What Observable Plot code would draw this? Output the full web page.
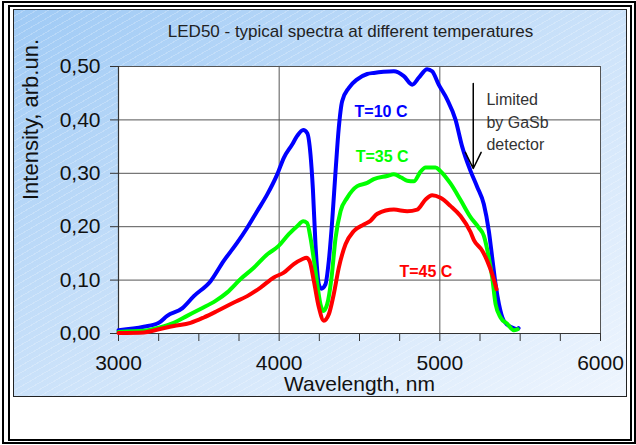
<!DOCTYPE html>
<html>
<head>
<meta charset="utf-8">
<script src="https://cdn.jsdelivr.net/npm/d3@7"></script>
<script src="https://cdn.jsdelivr.net/npm/@observablehq/plot@0.6"></script>
<style>
  body { margin: 0; background: #fff; }
  #page { position: relative; width: 636px; height: 445px; overflow: hidden; font-family: "Liberation Sans", Arial, sans-serif; }
  .o1 { position: absolute; left: 2px; top: 1px; width: 634px; height: 443px; border: 2px solid #000; box-sizing: border-box; }
  .o2 { position: absolute; left: 8px; top: 5px; width: 624px; height: 436px; border: 2px solid #000; box-sizing: border-box; }
  .area { position: absolute; left: 13px; top: 9px; width: 614px; height: 388px; box-sizing: border-box; border: 1px solid #222;
    background:
      repeating-linear-gradient(150deg, rgba(255,255,255,0) 0 5px, rgba(255,255,255,0.22) 5px 6px),
      linear-gradient(to bottom right, #9fcaf5 0%, #cfe4fa 55%, #eef5fe 100%); }
  #chart { position: absolute; left: 0; top: 0; }
</style>
</head>
<body>
<div id="page">
  <div class="o1"></div>
  <div class="o2"></div>
  <div class="area"></div>
  <div id="chart"></div>
</div>
<script>
// ---- data ----
const titleText = "LED50 - typical spectra at different temperatures";
const xLabel = "Wavelength, nm";
const yLabel = "Intensity, arb.un.";

const xTicks = [3000, 4000, 5000, 6000];
const xMinorTicks = [3000, 3250, 3500, 3750, 4000, 4250, 4500, 4750, 5000, 5250, 5500, 5750, 6000];
const yTicks = [0, 0.1, 0.2, 0.3, 0.4, 0.5];

// T=10 C (blue)
const wl10 = [3000, 3157, 3251, 3303, 3396, 3469, 3573, 3655, 3739, 3801, 3863, 3925, 3988, 4029, 4081, 4112, 4150, 4175, 4195, 4210, 4226, 4247, 4263, 4288, 4309, 4330, 4351, 4371, 4392, 4434, 4486, 4548, 4589, 4650, 4714, 4776, 4828, 4869, 4921, 4952, 4993, 5046, 5097, 5139, 5189, 5232, 5274, 5305, 5326, 5347, 5368, 5398, 5450, 5481, 5490];
const int10 = [0.006, 0.0125, 0.02, 0.033, 0.047, 0.070, 0.098, 0.136, 0.170, 0.198, 0.229, 0.260, 0.298, 0.329, 0.354, 0.370, 0.381, 0.375, 0.335, 0.270, 0.167, 0.092, 0.084, 0.092, 0.136, 0.211, 0.304, 0.385, 0.435, 0.460, 0.476, 0.486, 0.488, 0.490, 0.491, 0.482, 0.466, 0.479, 0.495, 0.491, 0.466, 0.438, 0.401, 0.350, 0.306, 0.275, 0.242, 0.192, 0.142, 0.092, 0.055, 0.024, 0.011, 0.008, 0.010];

// T=35 C (green)
const wl35 = [3000, 3157, 3251, 3344, 3427, 3510, 3604, 3677, 3760, 3842, 3925, 3997, 4060, 4112, 4150, 4174, 4195, 4226, 4257, 4274, 4299, 4326, 4351, 4382, 4423, 4486, 4548, 4589, 4672, 4714, 4760, 4797, 4838, 4880, 4911, 4973, 5004, 5066, 5129, 5191, 5243, 5274, 5305, 5326, 5347, 5378, 5420, 5460, 5485];
const int35 = [0.003, 0.005, 0.011, 0.020, 0.033, 0.046, 0.061, 0.077, 0.102, 0.123, 0.148, 0.164, 0.186, 0.201, 0.210, 0.207, 0.179, 0.117, 0.055, 0.042, 0.055, 0.105, 0.179, 0.229, 0.254, 0.276, 0.282, 0.289, 0.295, 0.298, 0.292, 0.286, 0.285, 0.303, 0.311, 0.311, 0.304, 0.281, 0.250, 0.218, 0.198, 0.183, 0.142, 0.105, 0.055, 0.030, 0.018, 0.006, 0.008];

// T=45 C (red)
const wl45 = [3000, 3157, 3251, 3344, 3448, 3531, 3614, 3718, 3801, 3884, 3967, 4029, 4091, 4143, 4170, 4190, 4216, 4247, 4278, 4309, 4340, 4371, 4413, 4465, 4527, 4568, 4610, 4714, 4797, 4859, 4911, 4952, 5004, 5066, 5129, 5191, 5212, 5264, 5295, 5326, 5353];
const int45 = [0.001, 0.002, 0.008, 0.014, 0.020, 0.030, 0.042, 0.058, 0.070, 0.086, 0.105, 0.114, 0.130, 0.139, 0.142, 0.135, 0.098, 0.049, 0.024, 0.036, 0.074, 0.123, 0.167, 0.192, 0.204, 0.211, 0.224, 0.232, 0.229, 0.232, 0.251, 0.259, 0.254, 0.239, 0.220, 0.190, 0.175, 0.155, 0.136, 0.111, 0.083];

const seriesNames = ["T=10 C", "T=35 C", "T=45 C"];
const seriesColors = ["#0000ff", "#00ff00", "#ff0000"];
// label anchor positions (data units) for the in-plot labels
const labelWl = [4634, 4641, 4913];
const labelInt = [0.415, 0.331, 0.116];

const noteText = "Limited\nby GaSb\ndetector";
const noteWl = 5290, noteInt = 0.399;
const arrowWl = 5208, arrowFrom = 0.468, arrowTo = 0.309;

// ---- build ----
const wls = [wl10, wl35, wl45];
const ints = [int10, int35, int45];
const rows = seriesNames.map((name, k) => wls[k].map((w, i) => ({series: name, wl: w, v: ints[k][i]})));
const labels = seriesNames.map((name, k) => ({name, wl: labelWl[k], v: labelInt[k], color: seriesColors[k]}));

const fmtY = d => d.toFixed(2).replace(".", ",");

const plot = Plot.plot({
  width: 636,
  height: 445,
  marginLeft: 118,
  marginRight: 36,
  marginTop: 66,
  marginBottom: 112,
  style: {background: "transparent", fontFamily: "'Liberation Sans', Arial, sans-serif", color: "#111"},
  x: {domain: [3000, 6000]},
  y: {domain: [0, 0.5]},
  marks: [
    Plot.frame({fill: "white", stroke: null}),
    Plot.gridX([4000, 5000], {stroke: "#555", strokeOpacity: 1, strokeWidth: 1}),
    Plot.gridY([0.1, 0.2, 0.3, 0.4], {stroke: "#555", strokeOpacity: 1, strokeWidth: 1}),
    Plot.frame({stroke: "#555", strokeWidth: 1}),
    Plot.ruleX([3000], {stroke: "#333", strokeWidth: 1.2}),
    Plot.ruleY([0], {stroke: "#333", strokeWidth: 1.2}),
    Plot.axisY(yTicks, {tickSize: 8, tickPadding: 10, tickFormat: fmtY, fontSize: 21, label: null, stroke: "#333"}),
    Plot.axisX(xMinorTicks, {tickSize: 8, text: null, label: null, stroke: "#333"}),
    Plot.axisX(xTicks, {tickSize: 0, tickPadding: 22, tickFormat: d => `${d}`, fontSize: 21, label: null}),
    Plot.text([xLabel], {frameAnchor: "bottom", dy: 51, fontSize: 21, lineAnchor: "middle", fill: "#111"}),
    Plot.text([yLabel], {frameAnchor: "left", dx: -88, rotate: -90, fontSize: 22, lineAnchor: "middle", fill: "#111"}),
    Plot.text([titleText], {frameAnchor: "top", dx: -9, dy: -35, fontSize: 17, lineAnchor: "middle", fill: "#222"}),
    ...rows.map((r, k) => Plot.line(r, {x: "wl", y: "v", stroke: seriesColors[k], strokeWidth: 4, curve: "monotone-x", strokeLinejoin: "round", strokeLinecap: "round"})),
    Plot.text(labels, {x: "wl", y: "v", text: "name", fill: "color", fontSize: 16, fontWeight: "bold", lineAnchor: "middle"}),
    Plot.arrow([{x1: arrowWl, y1: arrowFrom, x2: arrowWl, y2: arrowTo}], {x1: "x1", y1: "y1", x2: "x2", y2: "y2", stroke: "#000", strokeWidth: 1.5, headLength: 18, headAngle: 52}),
    Plot.text([noteText], {x: noteWl, y: noteInt, textAnchor: "start", lineAnchor: "middle", lineHeight: 1.4, fontSize: 16, fill: "#333"})
  ]
});
document.getElementById("chart").appendChild(plot);
</script>
</body>
</html>
